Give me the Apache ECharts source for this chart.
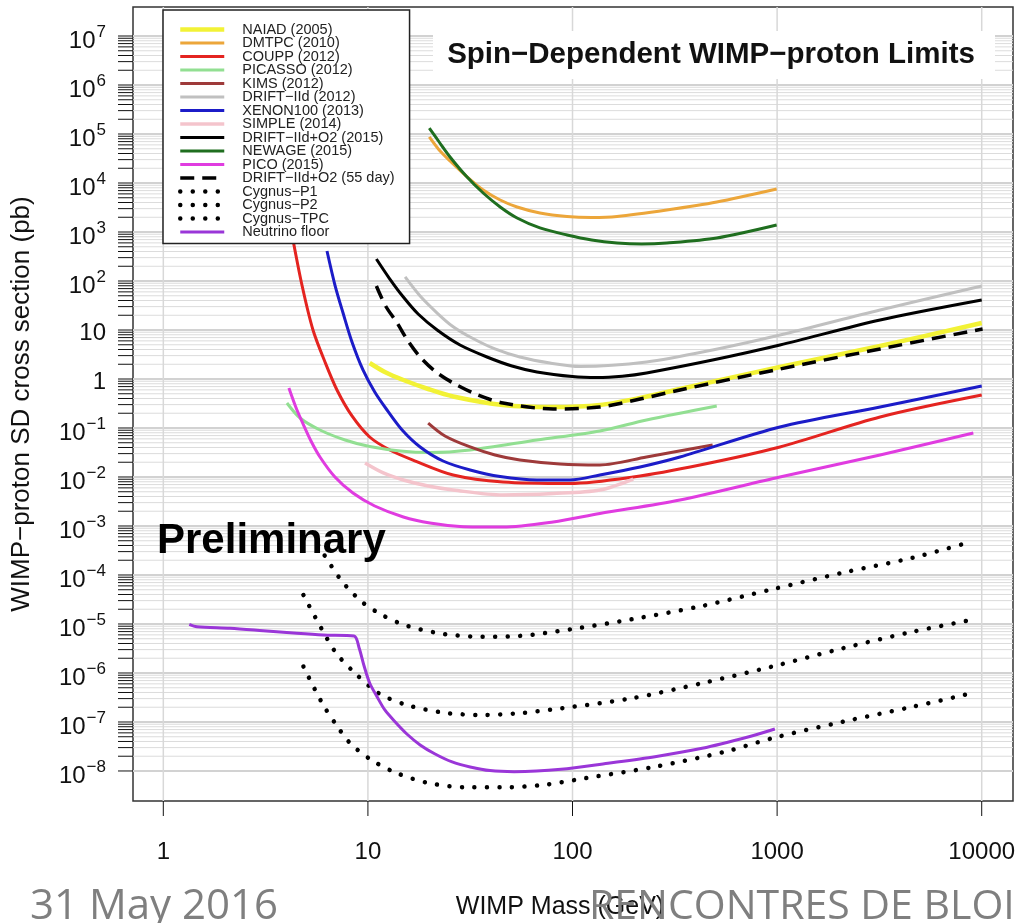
<!DOCTYPE html>
<html><head><meta charset="utf-8">
<script src="https://cdn.jsdelivr.net/npm/echarts@6/dist/echarts.min.js"></script>
<style>html,body{margin:0;padding:0;background:#fff;overflow:hidden}#c{width:1015px;height:923px}</style>
</head><body><div id="c"></div><script>
// ---- data: [WIMP mass (GeV), cross section (pb)] ----
const NAIAD = [[10.2,2.12],[12.1,1.39],[14.9,0.954],[19.7,0.625],[26.1,0.44],[45.7,0.295],[80.4,0.268],[136,0.295],[214,0.41],[335,0.625],[1032,1.76],[3186,4.71],[10000,13.9]];
const DMTPC = [[19.95,86900],[22.3,47100],[25.2,28100],[30.2,13900],[36.6,7190],[44.3,4500],[53.6,3240],[69.3,2440],[94,2070],[124,1980],[165,2070],[289,2810],[507,4090],[995,7550]];
const COUPP = [[4.26,869],[4.76,82.8],[5.39,10],[6.17,2.22],[7.06,0.597],[8.36,0.176],[10.2,0.0655],[12.8,0.0356],[16.6,0.0222],[26.1,0.011],[45.7,0.0079],[97.2,0.00737],[198,0.01],[420,0.0176],[1032,0.041],[3186,0.168],[10000,0.471]];
const PICASSO = [[4.02,0.324],[4.66,0.16],[5.83,0.091],[7.73,0.0569],[10.2,0.0419],[14.4,0.034],[20.1,0.0316],[31.6,0.0356],[67,0.0569],[136,0.0869],[230,0.146],[507,0.281]];
const KIMS = [[19.7,0.126],[23.8,0.0687],[31.6,0.041],[41.8,0.0281],[55.3,0.0222],[86.9,0.0184],[136,0.0176],[230,0.0256],[484,0.045]];
const DRIFT_IID = [[15.2,121],[18,49.4],[21.8,22.2],[25.8,12.1],[31.6,7.2],[41.8,4.1],[55.3,2.81],[77.6,2.12],[109,1.8],[230,2.22],[484,3.91],[1032,7.9],[3186,25.6],[10000,79]];
const XENON100 = [[6.31,409],[6.9,82.8],[7.56,22.2],[8.36,5.69],[9.46,1.53],[10.8,0.543],[12.4,0.233],[14.7,0.091],[18,0.041],[23.3,0.0212],[31.6,0.0139],[44.3,0.0102],[67,0.0087],[97.2,0.0087],[136,0.011],[214,0.016],[335,0.0256],[1032,0.105],[3186,0.268],[10000,0.72]];
const SIMPLE = [[9.68,0.0193],[11.9,0.0121],[14.9,0.0087],[19.7,0.00655],[26.1,0.00543],[45.7,0.0043],[80.4,0.0046],[136,0.00543],[198,0.0091]];
const DRIFT_O2 = [[11,281],[12.7,115],[14.9,47.1],[17.6,21.2],[21.8,10],[28.2,4.94],[38.2,2.81],[50.6,1.84],[67,1.39],[100,1.12],[132,1.07],[175,1.14],[230,1.33],[484,2.44],[1032,4.94],[3186,16],[10000,40.9]];
const NEWAGE = [[19.95,132000],[22.3,68700],[25.2,34000],[30.2,13900],[36.6,6250],[44.3,3240],[53.6,1930],[69.3,1210],[94,869],[124,687],[165,597],[218,569],[289,597],[507,755],[995,1390]];
const PICO = [[4.11,0.655],[4.46,0.256],[4.82,0.121],[5.27,0.0543],[5.83,0.0256],[6.9,0.01],[8.45,0.00471],[10.8,0.00256],[14.9,0.00153],[20.1,0.00115],[28.2,0.00098],[45.7,0.00095],[80.4,0.00121],[136,0.0018],[335,0.0034],[1032,0.01],[3186,0.0281],[9100,0.079]];
const DRIFT_55 = [[11,79],[12.2,30.9],[13.9,13.9],[15.7,5.97],[18,2.81],[21.5,1.39],[26.1,0.829],[34.5,0.471],[45.7,0.324],[80.4,0.244],[136,0.268],[214,0.391],[335,0.597],[1032,1.6],[3186,4.1],[10100,10.5]];
const CYG_P1 = [[5.71,4.1e-4],[7.39,7.9e-5],[9.33,2.85e-5],[11.9,1.48e-5],[15.5,9.2e-6],[23.5,6.25e-6],[36,5.5e-6],[54.8,5.7e-6],[98,7.8e-6],[195,1.25e-5],[430,2.33e-5],[944,5.1e-5],[2090,1.11e-4],[4610,2.25e-4],[8910,4.8e-4]];
const CYG_P2 = [[4.84,3.9e-5],[5.98,7.55e-6],[7.01,2.52e-6],[8.65,9.9e-7],[11.3,3.85e-7],[15.5,2.22e-7],[23.5,1.55e-7],[36,1.39e-7],[54.8,1.51e-7],[88,1.9e-7],[195,3.05e-7],[430,6.2e-7],[944,1.35e-6],[2090,3.19e-6],[4610,6.97e-6],[8910,1.21e-5]];
const CYG_TPC = [[4.84,1.35e-6],[5.98,2.41e-7],[7.01,8.7e-8],[8.2,3.67e-8],[10.4,1.68e-8],[13.9,8.97e-9],[20.1,5.6e-9],[30.7,4.65e-9],[46.8,4.65e-9],[71.3,5.17e-9],[115,7.1e-9],[253,1.22e-8],[559,2.48e-8],[944,4.65e-8],[2090,1.01e-7],[4610,2.05e-7],[8910,3.85e-7]];
const NU_FLOOR = [[1.34,9.86e-6],[1.46,8.8e-6],[2.12,8.2e-6],[3.08,7.3e-6],[4.49,6.46e-6],[6.05,5.97e-6],[8.55,5.69e-6],[9.06,3.24e-6],[9.58,1.39e-6],[10.2,6.25e-7],[11.1,3.24e-7],[12.1,1.76e-7],[13.6,1e-7],[15.5,5.69e-8],[18,3.4e-8],[21.3,2.22e-8],[25.8,1.53e-8],[31.6,1.21e-8],[39.5,1.02e-8],[51.8,9.7e-9],[87.9,1.08e-8],[149,1.44e-8],[253,1.96e-8],[430,2.9e-8],[728,5e-8],[975,7.2e-8]];

// ---- axis ticks ----
const X_TICKS = [1, 10, 100, 1000, 10000];
const X_TICK_LABELS = ['1', '10', '100', '1000', '10000'];
const Y_EXPONENTS = [-8,-7,-6,-5,-4,-3,-2,-1,0,1,2,3,4,5,6,7];
const Y_MINOR_MULT = [2,3,4,5,6,7,8,9];
const X_MIN = 0.711, X_MAX = 14220, Y_MIN = 2.44e-9, Y_MAX = 3.91e7;

const FONT = '"Liberation Sans", Arial, Helvetica, sans-serif';

const curves = [
  {name:'NAIAD (2005)', data:NAIAD, color:'#f2f236', width:4.5},
  {name:'DMTPC (2010)', data:DMTPC, color:'#eca63a', width:3},
  {name:'COUPP (2012)', data:COUPP, color:'#e42420', width:3},
  {name:'PICASSO (2012)', data:PICASSO, color:'#92df92', width:3},
  {name:'KIMS (2012)', data:KIMS, color:'#9e3a3a', width:3},
  {name:'DRIFT−IId (2012)', data:DRIFT_IID, color:'#c0c0c0', width:3},
  {name:'XENON100 (2013)', data:XENON100, color:'#1c1cc8', width:3},
  {name:'SIMPLE (2014)', data:SIMPLE, color:'#f4c4cc', width:3.5},
  {name:'DRIFT−IId+O2 (2015)', data:DRIFT_O2, color:'#000000', width:3},
  {name:'NEWAGE (2015)', data:NEWAGE, color:'#1f6e1f', width:3},
  {name:'PICO (2015)', data:PICO, color:'#e03ce0', width:3},
  {name:'DRIFT−IId+O2 (55 day)', data:DRIFT_55, color:'#000000', width:3.5, type:[14,8]},
  {name:'Cygnus−P1', data:CYG_P1, color:'#000000', width:4.5, type:[0.01,12.5], cap:'round'},
  {name:'Cygnus−P2', data:CYG_P2, color:'#000000', width:4.5, type:[0.01,12.5], cap:'round'},
  {name:'Cygnus−TPC', data:CYG_TPC, color:'#000000', width:4.5, type:[0.01,12.5], cap:'round'},
  {name:'Neutrino floor', data:NU_FLOOR, color:'#9a36d8', width:3}
];

// y tick list (x dummy, value, isMajor, exponent)
const yTicks = [];
Y_EXPONENTS.forEach(function(e){
  yTicks.push([1, Math.pow(10,e), 1, e]);
  if (e < 7) Y_MINOR_MULT.forEach(function(k){ yTicks.push([1, k*Math.pow(10,e), 0, 0]); });
});
const xTicks = X_TICKS.map(function(v,i){ return [v, 1, i]; });

const mctx = document.createElement('canvas').getContext('2d');
function textW(t, f){ mctx.font = f; return mctx.measureText(t).width; }
const LBL_FONT = '24px ' + FONT, SUP_FONT = '17px ' + FONT;

function renderY(params, api){
  const v = api.value(1), major = api.value(2) === 1, e = api.value(3);
  const cs = params.coordSys;
  const y = api.coord([1, v])[1];
  const ch = [
    {type:'line', shape:{x1:cs.x, y1:y, x2:cs.x+cs.width, y2:y}, style:{stroke: major ? '#d2d2d2' : '#dcdcdc', lineWidth: major ? 2 : 1}},
    {type:'line', shape:{x1:cs.x-15, y1:y, x2:cs.x, y2:y}, style:{stroke:'#111', lineWidth:1}}
  ];
  if (major) {
    const R = 106;
    if (e === 0 || e === 1) {
      ch.push({type:'text', x:R, y:y+3, style:{text: e === 0 ? '1' : '10', font:LBL_FONT, fill:'#111', textAlign:'right', textVerticalAlign:'middle'}});
    } else {
      const sup = (e < 0 ? '−' : '') + Math.abs(e);
      const sw = textW(sup, SUP_FONT);
      ch.push({type:'text', x:R - sw - 1, y:y+5, style:{text:'10', font:LBL_FONT, fill:'#111', textAlign:'right', textVerticalAlign:'middle'}});
      ch.push({type:'text', x:R, y:y-4, style:{text:sup, font:SUP_FONT, fill:'#111', textAlign:'right', textVerticalAlign:'middle'}});
    }
  }
  return {type:'group', children:ch};
}
function renderX(params, api){
  const v = api.value(0), i = api.value(2);
  const cs = params.coordSys;
  const x = api.coord([v, 1])[0];
  const yb = cs.y + cs.height;
  return {type:'group', children:[
    {type:'line', shape:{x1:x, y1:cs.y, x2:x, y2:yb}, style:{stroke:'#d8d8d8', lineWidth:1.5}},
    {type:'line', shape:{x1:x, y1:yb, x2:x, y2:yb+15}, style:{stroke:'#111', lineWidth:1}},
    {type:'text', x:x, y:yb+51, style:{text:X_TICK_LABELS[i], font:LBL_FONT, fill:'#111', textAlign:'center', textVerticalAlign:'middle'}}
  ]};
}

const series = [
  {type:'custom', name:'yaxis', data:yTicks, renderItem:renderY, clip:false, silent:true, z:1, encode:{x:0, y:1}},
  {type:'custom', name:'xaxis', data:xTicks, renderItem:renderX, clip:false, silent:true, z:1, encode:{x:0, y:1}}
].concat(curves.map(function(c){
  return {type:'line', name:c.name, data:c.data, symbol:'none', showSymbol:false, smooth:0.3,
    lineStyle:{color:c.color, width:c.width, type:c.type || 'solid', cap:c.cap || 'butt', join:'round'},
    itemStyle:{color:c.color}, z:3, silent:true};
}));

const chart = echarts.init(document.getElementById('c'), null, {renderer:'canvas'});
chart.setOption({
  animation:false,
  backgroundColor:'#ffffff',
  grid:{left:133, right:2, top:7, bottom:122, show:true, borderColor:'#333', borderWidth:1.5, backgroundColor:'#fff'},
  xAxis:{type:'log', logBase:10, min:X_MIN, max:X_MAX, axisLine:{show:false}, axisTick:{show:false}, axisLabel:{show:false}, splitLine:{show:false}},
  yAxis:{type:'log', logBase:10, min:Y_MIN, max:Y_MAX, axisLine:{show:false}, axisTick:{show:false}, axisLabel:{show:false}, splitLine:{show:false}},
  legend:{
    orient:'vertical', left:163, top:10, padding:[12,15,4,15],
    itemWidth:44, itemHeight:10, itemGap:-1.5,
    backgroundColor:'#fff', borderColor:'#222', borderWidth:1.5,
    selectedMode:false,
    itemStyle:{opacity:0},
    lineStyle:{width:'inherit'},
    textStyle:{fontFamily:FONT, fontSize:14.5, color:'#222', lineHeight:13.5, padding:[0,0,0,13]},
    data:curves.map(function(c){return c.name;}),
    z:6
  },
  graphic:[
    {type:'rect', shape:{x:433, y:31, width:562, height:48}, style:{fill:'#fff'}, z:5},
    {type:'text', x:711, y:55, style:{text:'Spin−Dependent WIMP−proton Limits', font:'bold 29.5px ' + FONT, fill:'#111', textAlign:'center', textVerticalAlign:'middle'}, z:6},
    {type:'text', x:157, y:541, style:{text:'Preliminary', font:'bold 42px ' + FONT, fill:'#000', textAlign:'left', textVerticalAlign:'middle'}, z:6},
    {type:'text', x:22, y:404, rotation:Math.PI/2, style:{text:'WIMP−proton SD cross section (pb)', font:'26px ' + FONT, fill:'#111', textAlign:'center', textVerticalAlign:'middle'}, z:6},
    {type:'text', x:560, y:907, style:{text:'WIMP Mass (GeV)', font:'25px ' + FONT, fill:'#111', textAlign:'center', textVerticalAlign:'middle'}, z:6},
    {type:'text', x:30, y:907, style:{text:'31 May 2016', font:'42px "Open Sans", sans-serif', fill:'#7f7f7f', textAlign:'left', textVerticalAlign:'middle'}, z:7},
    {type:'text', x:589, y:907, style:{text:'RENCONTRES DE BLOIS', font:'41px "Open Sans", sans-serif', fill:'#7f7f7f', textAlign:'left', textVerticalAlign:'middle'}, z:7}
  ],
  series:series
});
</script></body></html>
